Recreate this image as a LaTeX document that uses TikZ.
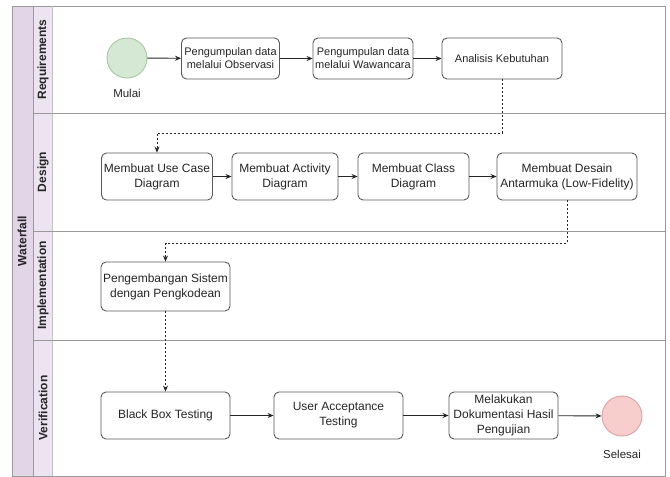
\documentclass[tikz,border=0pt]{standalone}
\usepackage{fontspec}
\setmainfont{Liberation Sans}
\usetikzlibrary{arrows.meta}
\definecolor{outerpurple}{HTML}{E1D5E7}
\definecolor{lanepurple}{HTML}{ECE4F0}
\definecolor{startgreen}{HTML}{D5E8D4}
\definecolor{startline}{HTML}{A8C6A2}
\definecolor{endred}{HTML}{F8CECC}
\definecolor{endline}{HTML}{D9A3A3}
\definecolor{frameline}{HTML}{9A9A9A}
\definecolor{boxline}{HTML}{5A5A5A}
\definecolor{txt}{HTML}{262626}
\tikzset{
  procbox/.style={draw=boxline, line width=0.9pt, rounded corners=5pt, fill=white,
    align=center, inner sep=0pt, text=txt},
  reqbox/.style={procbox, font=\fontsize{11}{13}\selectfont, minimum height=41pt},
  mainbox/.style={procbox, font=\fontsize{12}{15}\selectfont, minimum height=47pt},
  startnode/.style={circle, draw=startline, fill=startgreen, line width=0.9pt, minimum size=40pt, inner sep=0pt},
  endnode/.style={circle, draw=endline, fill=endred, line width=0.9pt, minimum size=40pt, inner sep=0pt},
  plainlabel/.style={text=txt, font=\fontsize{11.5}{14}\selectfont, inner sep=0pt},
  lanelabel/.style={rotate=90, text=txt, font=\bfseries\fontsize{12}{14}\selectfont, inner sep=0pt},
  flow/.style={draw=black!85, line width=0.9pt, -{Stealth[length=6pt,width=5pt]}},
  dashflow/.style={flow, dash pattern=on 2pt off 2pt},
  laneline/.style={draw=frameline, line width=0.8pt}
}
\begin{document}
\begin{tikzpicture}[x=1pt,y=-1pt]
\useasboundingbox (0,0) rectangle (670,477);
\fill[white] (0,0) rectangle (670,477);
% pool and lanes
\fill[outerpurple] (12,6) rectangle (33,476);
\fill[lanepurple] (33,6) rectangle (52,476);
\draw[laneline] (12,6) rectangle (665,476);
\draw[laneline] (33,6) -- (33,476);
\draw[laneline, draw=frameline!60] (52,6) -- (52,476);
\draw[laneline] (33,113) -- (665,113);
\draw[laneline] (33,231) -- (665,231);
\draw[laneline] (33,340) -- (665,340);
\node[lanelabel] (pool) at (22,241) {Waterfall};
\node[lanelabel] (lreq) at (43,59.5) {Requirements};
\node[lanelabel] (ldes) at (43,172) {Design};
\node[lanelabel] (limp) at (43,285.5) {Implementation};
\node[lanelabel] (lver) at (43,408) {Verification};
% requirements
\node[startnode] (start) at (127,58) {};
\node[plainlabel] (startlbl) at (127,93) {Mulai};
\node[reqbox, minimum width=98pt] (b1) at (230.5,58.5) {Pengumpulan data\\melalui Observasi};
\node[reqbox, minimum width=100pt] (b2) at (363,58.5) {Pengumpulan data\\melalui Wawancara};
\node[reqbox, minimum width=120pt] (b3) at (502,58.5) {Analisis Kebutuhan};
% design
\node[mainbox, minimum width=111pt] (d1) at (157,176.5) {Membuat Use Case\\Diagram};
\node[mainbox, minimum width=106pt] (d2) at (285,176.5) {Membuat Activity\\Diagram};
\node[mainbox, minimum width=111pt] (d3) at (413.5,176.5) {Membuat Class\\Diagram};
\node[mainbox, minimum width=140pt] (d4) at (567,176.5) {Membuat Desain\\Antarmuka (Low-Fidelity)};
% implementation
\node[mainbox, minimum width=129pt, minimum height=49pt] (i1) at (165.5,286.5) {Pengembangan Sistem\\dengan Pengkodean};
% verification
\node[mainbox, minimum width=129pt] (v1) at (165.5,415.5) {Black Box Testing};
\node[mainbox, minimum width=129pt] (v2) at (338.5,415.5) {User Acceptance\\Testing};
\node[mainbox, minimum width=109pt] (v3) at (503.5,415.5) {Melakukan\\Dokumentasi Hasil\\Pengujian};
\node[endnode] (stop) at (622,416) {};
\node[plainlabel] (stoplbl) at (622,454) {Selesai};
% connectors
\draw[flow] (start) -- (b1);
\draw[flow] (b1) -- (b2);
\draw[flow] (b2) -- (b3);
\draw[dashflow] (b3.south) -- (b3.south |- 0,133) -| (d1.north);
\draw[flow] (d1) -- (d2);
\draw[flow] (d2) -- (d3);
\draw[flow] (d3) -- (d4);
\draw[dashflow] (d4.south) -- (d4.south |- 0,243) -| (i1.north);
\draw[dashflow] (i1) -- (v1);
\draw[flow] (v1) -- (v2);
\draw[flow] (v2) -- (v3);
\draw[flow] (v3) -- (stop);
\end{tikzpicture}
\end{document}
